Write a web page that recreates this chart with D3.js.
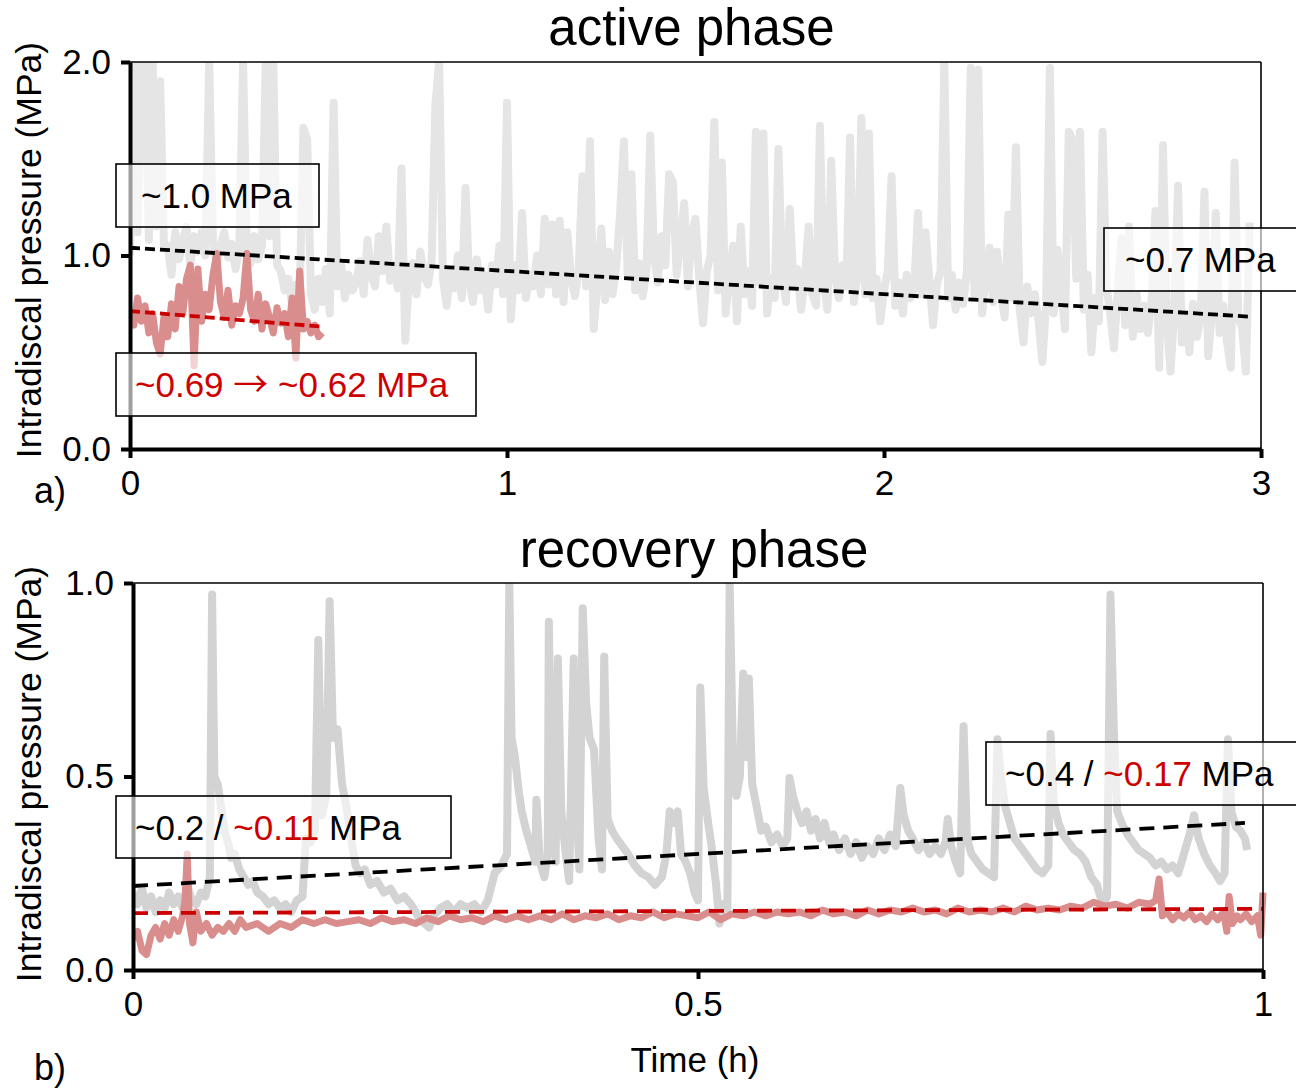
<!DOCTYPE html>
<html>
<head>
<meta charset="utf-8">
<script src="https://cdn.jsdelivr.net/npm/d3@7"></script>
<style>
    body { margin: 0; background: #fff; }
    text { font-family: "Liberation Sans", Arial, sans-serif; }
</style>
</head>
<body>
<div id="chart-area"></div>
<script>

// ---- data ----

// active phase, sampled every 0.01 h
const activeStep = 0.01;
const activeGray = [
    1.0, 2.0, 1.12, 2.0, 2.0, 1.08, 2.0, 1.15, 1.9, 1.05,
    1.05, 0.9, 1.12, 0.98, 1.08, 1.15, 0.95, 1.1, 1.02, 1.12,
    1.0, 2.0, 1.08, 0.95, 1.05, 1.12, 0.99, 1.06, 0.93, 1.04,
    2.0, 1.02, 0.96, 1.1, 0.98, 1.05, 2.0, 1.1, 2.0, 0.95,
    0.92, 0.82, 0.88, 0.74, 0.85, 0.78, 1.66, 1.6, 0.8, 0.72,
    0.88, 0.76, 0.93, 0.7, 1.79, 0.84, 0.95, 0.78, 0.9, 0.82,
    0.86, 0.97, 0.8, 1.08, 0.9, 0.84, 1.1, 0.92, 1.15, 0.87,
    0.95, 0.83, 1.45, 0.56, 0.88, 0.96, 0.8, 1.02, 0.9, 0.85,
    0.97, 1.78, 2.0, 0.88, 0.74, 0.92, 0.83, 1.0, 0.78, 1.35,
    0.86, 0.76, 0.98, 0.82, 0.9, 0.72, 0.95, 0.85, 1.05, 0.8,
    1.79, 0.67, 0.95, 0.82, 1.22, 0.78, 0.9, 0.84, 1.0, 0.8,
    1.19, 0.85, 1.16, 0.8, 1.18, 0.76, 1.12, 0.88, 0.79, 0.92,
    1.41, 0.84, 1.59, 0.62, 0.86, 1.14, 0.77, 1.02, 0.8, 0.95,
    1.22, 1.59, 0.9, 1.42, 0.82, 0.96, 0.79, 0.92, 1.62, 1.0,
    0.86, 1.1, 0.95, 1.42, 1.38, 0.9, 1.08, 1.27, 0.84, 1.12,
    1.19, 0.88, 0.65, 0.92, 1.0, 1.69, 0.82, 1.48, 0.7, 0.9,
    1.05, 0.66, 1.15, 0.8, 0.92, 0.74, 1.64, 0.86, 1.63, 0.7,
    0.88, 0.78, 1.55, 0.9, 0.76, 1.24, 0.85, 0.93, 0.72, 0.88,
    1.15, 0.8, 0.74, 1.67, 0.86, 0.72, 1.49, 0.9, 0.78, 0.95,
    0.84, 1.61, 0.76, 0.9, 1.71, 0.8, 1.63, 0.78, 0.88, 0.66,
    0.82, 0.92, 1.41, 0.74, 0.86, 0.7, 0.9, 0.78, 0.83, 1.22,
    0.8, 1.12, 0.88, 0.64, 0.85, 0.92, 2.0, 0.78, 0.9, 0.72,
    0.86, 0.75, 0.92, 1.97, 0.8, 1.96, 0.7, 0.88, 1.04, 0.76,
    1.02, 0.82, 0.68, 1.21, 0.78, 1.56, 0.72, 0.55, 0.84, 0.7,
    0.8, 0.66, 0.45, 0.75, 1.97, 0.7, 1.03, 0.82, 0.62, 1.64,
    1.6, 0.88, 1.64, 0.72, 0.9, 0.5, 0.78, 0.66, 1.64, 0.84,
    0.7, 0.52, 0.82, 1.09, 0.64, 1.15, 0.58, 0.8, 0.62, 0.74,
    0.6, 0.78, 1.23, 0.42, 1.57, 0.66, 0.4, 0.72, 1.36, 0.55,
    0.7, 0.5, 0.75, 0.58, 0.68, 1.33, 0.48, 0.72, 1.22, 0.6,
    0.74, 0.55, 0.42, 1.48, 0.68, 0.62, 0.4, 1.17
];
const activeRed = [
    0.72, 0.64, 0.78, 0.66, 0.74, 0.6, 0.7, 0.55, 0.49, 0.68,
    0.58, 0.75, 0.62, 0.84, 0.7, 0.88, 0.95, 0.43, 0.93, 0.66,
    0.8, 0.72, 0.9, 1.01, 0.76, 0.68, 0.82, 0.64, 0.74, 0.7,
    0.78, 1.01, 0.72, 0.66, 0.8, 0.62, 0.75, 0.68, 0.6, 0.73,
    0.65, 0.7, 0.58, 0.78, 0.47, 0.92, 0.62, 0.66, 0.6, 0.64,
    0.58, 0.6
];
const activeTrendGray = [[0, 1.04], [2.97, 0.684]];
const activeTrendRed = [[0, 0.713], [0.51, 0.632]];
const activeTicksX = [0, 1, 2, 3];
const activeTicksY = [0, 1, 2];

// recovery phase, [time (h), pressure (MPa)]
const recoveryGray = [
    [0.000,0.20],[0.004,0.17],[0.008,0.21],[0.012,0.16],[0.016,0.19],[0.020,0.15],[0.024,0.18],[0.028,0.16],
    [0.032,0.20],[0.036,0.17],[0.040,0.19],[0.044,0.16],[0.048,0.22],[0.052,0.18],[0.056,0.17],[0.060,0.20],
    [0.064,0.19],[0.068,0.24],[0.070,0.97],[0.072,0.50],[0.075,0.48],[0.078,0.42],[0.081,0.36],[0.084,0.33],
    [0.087,0.29],[0.090,0.30],[0.094,0.26],[0.098,0.24],[0.102,0.22],[0.106,0.23],[0.110,0.20],[0.115,0.19],
    [0.120,0.17],[0.125,0.18],[0.130,0.16],[0.135,0.17],[0.140,0.15],[0.145,0.18],[0.150,0.19],[0.153,0.34],
    [0.157,0.33],[0.161,0.36],[0.164,0.853],[0.167,0.40],[0.171,0.45],[0.174,0.953],[0.177,0.60],[0.181,0.622],
    [0.185,0.48],[0.189,0.42],[0.193,0.34],[0.197,0.27],[0.201,0.25],[0.205,0.26],[0.210,0.22],[0.216,0.23],
    [0.222,0.20],[0.228,0.21],[0.234,0.18],[0.240,0.19],[0.246,0.17],[0.252,0.14],[0.258,0.12],[0.262,0.11],
    [0.266,0.14],[0.272,0.16],[0.278,0.17],[0.284,0.15],[0.290,0.17],[0.296,0.16],[0.302,0.17],[0.308,0.15],
    [0.314,0.18],[0.320,0.25],[0.326,0.27],[0.331,0.30],[0.333,1.0],[0.335,0.60],[0.338,0.55],[0.341,0.47],
    [0.344,0.41],[0.348,0.36],[0.352,0.32],[0.356,0.28],[0.357,0.44],[0.360,0.28],[0.364,0.24],[0.367,0.30],
    [0.368,0.90],[0.370,0.50],[0.372,0.43],[0.374,0.28],[0.376,0.805],[0.379,0.41],[0.383,0.30],[0.386,0.23],
    [0.390,0.805],[0.392,0.46],[0.395,0.26],[0.398,0.935],[0.401,0.69],[0.404,0.60],[0.408,0.57],[0.412,0.34],
    [0.415,0.26],[0.417,0.81],[0.420,0.39],[0.424,0.36],[0.428,0.34],[0.433,0.32],[0.438,0.30],[0.444,0.27],
    [0.450,0.25],[0.456,0.24],[0.462,0.22],[0.468,0.24],[0.472,0.30],[0.475,0.41],[0.479,0.38],[0.482,0.41],
    [0.485,0.30],[0.489,0.28],[0.493,0.25],[0.497,0.20],[0.500,0.18],[0.502,0.73],[0.505,0.47],[0.509,0.38],
    [0.512,0.32],[0.516,0.22],[0.519,0.12],[0.522,0.17],[0.526,0.16],[0.528,1.0],[0.531,0.54],[0.534,0.45],
    [0.537,0.50],[0.540,0.766],[0.543,0.55],[0.545,0.753],[0.548,0.48],[0.552,0.42],[0.556,0.36],[0.560,0.37],
    [0.565,0.33],[0.570,0.35],[0.575,0.32],[0.579,0.34],[0.581,0.496],[0.584,0.45],[0.588,0.41],[0.592,0.38],
    [0.596,0.41],[0.600,0.36],[0.604,0.39],[0.608,0.34],[0.612,0.38],[0.616,0.33],[0.620,0.35],[0.625,0.31],
    [0.630,0.34],[0.635,0.30],[0.640,0.33],[0.645,0.29],[0.650,0.32],[0.655,0.30],[0.660,0.34],[0.665,0.31],
    [0.670,0.35],[0.675,0.32],[0.679,0.47],[0.682,0.40],[0.686,0.36],[0.690,0.34],[0.695,0.31],[0.700,0.33],
    [0.705,0.30],[0.710,0.32],[0.715,0.30],[0.719,0.33],[0.721,0.39],[0.724,0.32],[0.728,0.28],[0.732,0.25],
    [0.735,0.63],[0.738,0.34],[0.742,0.30],[0.747,0.28],[0.752,0.26],[0.757,0.25],[0.762,0.24],[0.765,0.596],
    [0.768,0.50],[0.772,0.42],[0.776,0.38],[0.780,0.34],[0.785,0.32],[0.790,0.30],[0.795,0.28],[0.800,0.26],
    [0.805,0.25],[0.810,0.27],[0.812,0.61],[0.815,0.43],[0.819,0.38],[0.823,0.35],[0.828,0.33],[0.833,0.31],
    [0.838,0.30],[0.843,0.28],[0.848,0.24],[0.853,0.22],[0.858,0.17],[0.862,0.19],[0.865,0.97],[0.868,0.62],
    [0.871,0.41],[0.875,0.38],[0.880,0.35],[0.885,0.33],[0.890,0.31],[0.895,0.30],[0.900,0.29],[0.905,0.27],
    [0.910,0.28],[0.915,0.26],[0.920,0.27],[0.925,0.25],[0.930,0.30],[0.935,0.35],[0.939,0.40],[0.943,0.34],
    [0.948,0.30],[0.953,0.27],[0.958,0.25],[0.962,0.23],[0.966,0.25],[0.969,0.596],[0.972,0.41],[0.976,0.37],
    [0.980,0.36],[0.984,0.34],[0.986,0.31]
];
const recoveryRed = [
    [0,0.08],[0.004,0.10],[0.008,0.05],[0.012,0.04],[0.016,0.09],[0.02,0.11],[0.024,0.08],[0.028,0.12],
    [0.032,0.09],[0.036,0.13],[0.04,0.10],[0.044,0.14],[0.046,0.18],[0.048,0.30],[0.050,0.12],[0.053,0.07],
    [0.056,0.15],[0.06,0.10],[0.065,0.12],[0.07,0.09],[0.075,0.11],[0.08,0.10],[0.085,0.12],[0.09,0.10],
    [0.095,0.13],[0.1,0.11],[0.11,0.12],[0.12,0.10],[0.13,0.12],[0.14,0.11],[0.15,0.13],[0.16,0.12],
    [0.17,0.13],[0.18,0.12],[0.19,0.125],[0.2,0.13],[0.21,0.12],[0.22,0.135],[0.23,0.125],[0.24,0.13],
    [0.25,0.12],[0.26,0.135],[0.27,0.125],[0.28,0.14],[0.29,0.13],[0.3,0.135],[0.31,0.125],[0.32,0.14],
    [0.33,0.13],[0.34,0.14],[0.35,0.13],[0.36,0.14],[0.37,0.13],[0.38,0.145],[0.39,0.13],[0.4,0.14],
    [0.41,0.135],[0.42,0.145],[0.43,0.13],[0.44,0.14],[0.45,0.135],[0.46,0.15],[0.47,0.135],[0.48,0.145],
    [0.49,0.14],[0.5,0.135],[0.51,0.15],[0.52,0.13],[0.53,0.145],[0.54,0.14],[0.55,0.15],[0.56,0.14],
    [0.57,0.15],[0.58,0.145],[0.59,0.15],[0.6,0.14],[0.61,0.155],[0.62,0.145],[0.63,0.15],[0.64,0.14],
    [0.65,0.155],[0.66,0.145],[0.67,0.155],[0.68,0.15],[0.69,0.16],[0.7,0.15],[0.71,0.155],[0.72,0.145],
    [0.73,0.16],[0.74,0.15],[0.75,0.155],[0.76,0.15],[0.77,0.16],[0.78,0.15],[0.79,0.165],[0.8,0.155],
    [0.81,0.16],[0.82,0.155],[0.83,0.165],[0.84,0.16],[0.85,0.175],[0.86,0.165],[0.87,0.17],[0.88,0.16],
    [0.89,0.175],[0.9,0.17],[0.905,0.18],[0.908,0.235],[0.911,0.14],[0.915,0.15],[0.92,0.13],[0.925,0.145],
    [0.93,0.135],[0.935,0.15],[0.94,0.13],[0.945,0.14],[0.95,0.125],[0.955,0.145],[0.96,0.13],[0.965,0.15],
    [0.968,0.10],[0.97,0.19],[0.973,0.12],[0.977,0.14],[0.98,0.13],[0.985,0.145],[0.99,0.125],[0.995,0.14],
    [0.998,0.09],[1.0,0.20]
];
const recoveryTrendGray = [[0, 0.217], [0.984, 0.38]];
const recoveryTrendRed = [[0, 0.147], [1.0, 0.158]];
const recoveryTicksX = [0, 0.5, 1];
const recoveryTicksY = [0, 0.5, 1];

// ---- drawing ----

const svg = d3.select("#chart-area").append("svg")
    .attr("width", 1296)
    .attr("height", 1088);

function drawPanel(p) {
    let g = svg.append("g");

    let x = d3.scaleLinear().domain(p.xDomain).range([p.left, p.right]);
    let y = d3.scaleLinear().domain(p.yDomain).range([p.bottom, p.top]);

    g.append("defs").append("clipPath")
        .attr("id", p.id + "-clip")
        .append("rect")
        .attr("x", p.left)
        .attr("y", p.top)
        .attr("width", p.right - p.left + 5)
        .attr("height", p.bottom - p.top);

    let line = d3.line()
        .x(d => x(d[0]))
        .y(d => y(d[1]));

    let plot = g.append("g").attr("clip-path", "url(#" + p.id + "-clip)");

    plot.append("path")
        .datum(p.gray)
        .attr("d", line)
        .attr("fill", "none")
        .attr("stroke", p.grayColor)
        .attr("stroke-width", 8)
        .attr("stroke-linejoin", "round");

    plot.append("path")
        .datum(p.red)
        .attr("d", line)
        .attr("fill", "none")
        .attr("stroke", "#d98d8d")
        .attr("stroke-width", 7)
        .attr("stroke-linejoin", "round");

    plot.append("path")
        .datum(p.trendGray)
        .attr("d", line)
        .attr("fill", "none")
        .attr("stroke", "#000")
        .attr("stroke-width", 3.8)
        .attr("stroke-dasharray", p.dash);

    plot.append("path")
        .datum(p.trendRed)
        .attr("d", line)
        .attr("fill", "none")
        .attr("stroke", "#cc0000")
        .attr("stroke-width", 3.8)
        .attr("stroke-dasharray", p.dash);

    // thin top / right frame
    g.append("line")
        .attr("x1", p.left).attr("x2", p.right)
        .attr("y1", p.top).attr("y2", p.top)
        .attr("stroke", "#000").attr("stroke-width", 1.6);
    g.append("line")
        .attr("x1", p.right).attr("x2", p.right)
        .attr("y1", p.top).attr("y2", p.bottom)
        .attr("stroke", "#000").attr("stroke-width", 1.6);

    let xAxis = g.append("g")
        .attr("transform", "translate(0," + p.bottom + ")")
        .call(d3.axisBottom(x).tickValues(p.ticksX).tickFormat(p.formatX)
            .tickSizeInner(9).tickSizeOuter(0).tickPadding(12));

    let yAxis = g.append("g")
        .attr("transform", "translate(" + p.left + ",0)")
        .call(d3.axisLeft(y).tickValues(p.ticksY).tickFormat(d3.format(".1f"))
            .tickSizeInner(9).tickSizeOuter(0).tickPadding(10));

    [xAxis, yAxis].forEach(a => {
        a.select(".domain").attr("stroke-width", 4);
        a.selectAll(".tick line").attr("stroke-width", 4);
        a.selectAll(".tick text")
            .attr("font-size", 35)
            .attr("fill", "#000")
            .style("font-family", "'Liberation Sans', Arial, sans-serif");
    });

    g.append("text")
        .attr("x", (p.left + p.right) / 2 - 4)
        .attr("y", p.titleY)
        .attr("text-anchor", "middle")
        .attr("font-size", 51)
        .text(p.title);

    g.append("text")
        .attr("transform", "rotate(-90)")
        .attr("x", -p.labelCenter)
        .attr("y", 41)
        .attr("text-anchor", "middle")
        .attr("font-size", 35.5)
        .text("Intradiscal pressure (MPa)");

    g.append("text")
        .attr("x", 34)
        .attr("y", p.letterY)
        .attr("font-size", 36)
        .text(p.letter);

    // annotation boxes on top
    p.boxes.forEach(b => {
        g.append("rect")
            .attr("x", b.x).attr("y", b.y)
            .attr("width", b.w).attr("height", b.h)
            .attr("fill", "#fff")
            .attr("fill-opacity", 0.62)
            .attr("stroke", "#000")
            .attr("stroke-width", 1.6);
        let t = g.append("text")
            .attr("x", b.tx)
            .attr("y", b.ty)
            .attr("font-size", 35)
            .attr("xml:space", "preserve");
        b.parts.forEach(part => {
            let s = t.append("tspan").attr("fill", part[1]).text(part[0]);
            if (part[2]) s.style("font-family", part[2]);
        });
    });
}

drawPanel({
    id: "active",
    left: 130, right: 1261, top: 62, bottom: 449,
    xDomain: [0, 3], yDomain: [0, 2],
    gray: activeGray.map((v, i) => [i * activeStep, v]),
    red: activeRed.map((v, i) => [i * activeStep, v]),
    trendGray: activeTrendGray,
    trendRed: activeTrendRed,
    grayColor: "#e5e5e5",
    dash: "10,5",
    ticksX: activeTicksX,
    ticksY: activeTicksY,
    formatX: d3.format("d"),
    title: "active phase",
    titleY: 45,
    labelCenter: 250,
    letter: "a)",
    letterY: 503,
    boxes: [
        {x: 116, y: 164, w: 203, h: 63, tx: 141, ty: 208, parts: [["~1.0 MPa", "#000"]]},
        {x: 1104, y: 228, w: 230, h: 63, tx: 1125, ty: 272, parts: [["~0.7 MPa", "#000"]]},
        {x: 116, y: 353, w: 360, h: 63, tx: 135, ty: 397, parts: [
            ["~0.69 ", "#cc0000"],
            ["\u2192", "#cc0000", "'Noto Sans CJK JP', 'DejaVu Sans', sans-serif"],
            [" ~0.62 MPa", "#cc0000"]
        ]}
    ]
});

drawPanel({
    id: "recovery",
    left: 133, right: 1263, top: 583, bottom: 970,
    xDomain: [0, 1], yDomain: [0, 1],
    gray: recoveryGray,
    red: recoveryRed,
    trendGray: recoveryTrendGray,
    trendRed: recoveryTrendRed,
    grayColor: "#d3d3d3",
    dash: "15,9",
    ticksX: recoveryTicksX,
    ticksY: recoveryTicksY,
    formatX: d => (d === 0.5 ? "0.5" : d3.format("d")(d)),
    title: "recovery phase",
    titleY: 567,
    labelCenter: 774,
    letter: "b)",
    letterY: 1080,
    boxes: [
        {x: 116, y: 796, w: 335, h: 62, tx: 135, ty: 840,
            parts: [["~0.2 / ", "#000"], ["~0.11", "#cc0000"], [" MPa", "#000"]]},
        {x: 986, y: 742, w: 330, h: 63, tx: 1005, ty: 786,
            parts: [["~0.4 / ", "#000"], ["~0.17", "#cc0000"], [" MPa", "#000"]]}
    ]
});

// x axis title for the lower panel
svg.append("text")
    .attr("x", 695)
    .attr("y", 1072)
    .attr("text-anchor", "middle")
    .attr("font-size", 35)
    .text("Time (h)");

</script>
</body>
</html>
